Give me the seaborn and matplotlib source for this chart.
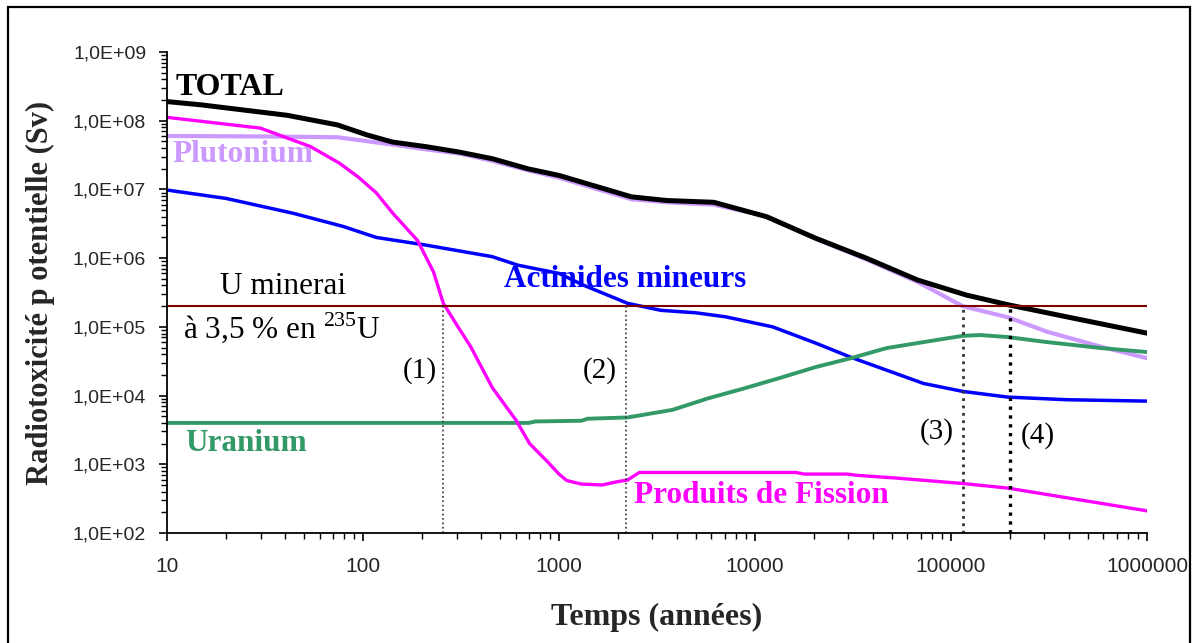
import numpy as np
import seaborn as sns
from matplotlib import pyplot as plt
from matplotlib import ticker
from matplotlib.patches import Rectangle

# temps (annees) et radiotoxicite (Sv)
total_t = [10, 15, 41, 74, 105, 141, 209, 309, 457, 692, 1000, 2344, 3548, 6166,
           11500, 20400, 37000, 67600, 120000, 195000, 389000, 1000000]
total_v = [1.9e8, 1.7e8, 1.2e8, 8.7e7, 6.2e7, 4.9e7, 4.2e7, 3.5e7, 2.8e7, 2.0e7, 1.6e7,
           7.8e6, 6.9e6, 6.5e6, 4.0e6, 1.95e6, 1.0e6, 4.8e5, 2.9e5, 2.1e5, 1.4e5, 8.1e4]

pu_t = [10, 32, 74, 141, 200, 316, 457, 692, 1000, 2344, 3548, 6166, 10965, 20893,
        36308, 67608, 114815, 195000, 309000, 589000, 1000000]
pu_v = [6.0e7, 5.9e7, 5.75e7, 4.5e7, 3.9e7, 3.3e7, 2.6e7, 1.9e7, 1.48e7, 7.2e6, 6.5e6,
        6.0e6, 4.2e6, 1.86e6, 9.8e5, 4.5e5, 2.0e5, 1.38e5, 8.5e4, 5.1e4, 3.5e4]

am_t = [10, 20, 44, 79, 117, 209, 457, 617, 1000, 1318, 2239, 3311, 5012, 7079, 12303,
        20417, 30903, 46774, 72444, 114815, 194984, 389045, 1000000]
am_v = [9.8e6, 7.4e6, 4.5e6, 2.9e6, 2.0e6, 1.55e6, 1.05e6, 7.9e5, 6.0e5, 4.1e5, 2.2e5,
        1.74e5, 1.6e5, 1.4e5, 1.0e5, 5.8e4, 3.6e4, 2.35e4, 1.5e4, 1.15e4, 9.5e3, 8.7e3, 8.3e3]

u_t = [10, 700, 760, 1300, 1400, 2239, 3802, 5754, 8710, 13183, 20417, 30903, 46774,
       72444, 114815, 141254, 194984, 309030, 588844, 1000000]
u_v = [4.0e3, 4.0e3, 4.2e3, 4.3e3, 4.6e3, 4.8e3, 6.2e3, 9.1e3, 1.26e4, 1.78e4, 2.6e4,
       3.5e4, 4.9e4, 6.0e4, 7.4e4, 7.6e4, 7.1e4, 6.0e4, 4.9e4, 4.3e4]

pf_t = [10, 30, 54, 76, 95, 117, 141, 190, 229, 257, 302, 355, 457, 603, 708, 871,
        1000, 1096, 1300, 1660, 2000, 2239, 2570, 16218, 17783, 29512, 33113, 52481,
        114815, 194984, 1000000]
pf_v = [1.12e8, 7.8e7, 4.2e7, 2.4e7, 1.5e7, 8.9e6, 4.6e6, 1.8e6, 6.3e5, 2.2e5, 1.05e5,
        5.1e4, 1.3e4, 4.4e3, 2.0e3, 1.1e3, 720, 580, 515, 500, 560, 590, 760, 760, 720,
        720, 690, 630, 525, 450, 210]

u_minerai = 2.0e5
repere_t = [257, 2190, 115000, 200000]
repere_txt = ["(1)", "(2)", "(3)", "(4)"]

sns.set_style("white")
plt.rcParams['font.family'] = ['Liberation Serif', 'DejaVu Serif']
plt.rcParams['mathtext.fontset'] = 'custom'
plt.rcParams['mathtext.rm'] = 'Liberation Serif'

fig = plt.figure(figsize=(11.98, 6.43), dpi=100)
ax = fig.add_axes([0.1394, 0.1711, 0.818, 0.748])

sns.lineplot(x=pu_t, y=pu_v, ax=ax, color="#CC99FF", lw=3.0)
sns.lineplot(x=total_t, y=total_v, ax=ax, color="black", lw=3.6)
sns.lineplot(x=am_t, y=am_v, ax=ax, color="#0000FF", lw=2.5)
sns.lineplot(x=u_t, y=u_v, ax=ax, color="#339966", lw=2.8)
sns.lineplot(x=pf_t, y=pf_v, ax=ax, color="#FF00FF", lw=2.4)

ax.axhline(u_minerai, color="#800000", lw=1.5)
styles = [("#333333", 1.2), ("#333333", 1.2), ("#333333", 2.0), ("black", 2.4)]
for t, (c, w) in zip(repere_t, styles):
    ax.plot([t, t], [1e2, u_minerai], ls=":", color=c, lw=w)

ax.set_xscale("log")
ax.set_yscale("log")
ax.set_xlim(10, 1e6)
ax.set_ylim(1e2, 1e9)

ax.yaxis.set_major_formatter(ticker.FuncFormatter(lambda v, p: "1,0E+%02d" % round(np.log10(v))))
ax.xaxis.set_major_formatter(ticker.FuncFormatter(lambda v, p: "%d" % round(v)))
ax.xaxis.set_minor_formatter(ticker.NullFormatter())
ax.yaxis.set_minor_formatter(ticker.NullFormatter())
ax.xaxis.set_minor_locator(ticker.LogLocator(base=10, subs=np.arange(2, 10), numticks=20))
ax.yaxis.set_minor_locator(ticker.LogLocator(base=10, subs=np.arange(2, 10), numticks=20))

ax.tick_params(axis="both", which="major", direction="out", length=6, width=1.2,
               bottom=True, left=True, color="black")
ax.tick_params(axis="both", which="minor", direction="out", length=4, width=1,
               bottom=True, left=True, color="black")
for lab in ax.get_yticklabels():
    lab.set_fontfamily("Liberation Sans")
    lab.set_fontsize(14)
for lab in ax.get_xticklabels():
    lab.set_fontfamily("Liberation Sans")
    lab.set_fontsize(15)
ax.tick_params(axis="y", pad=9)
ax.tick_params(axis="x", pad=11)

for s in ["top", "right"]:
    ax.spines[s].set_visible(False)
for s in ["left", "bottom"]:
    ax.spines[s].set_color("black")
    ax.spines[s].set_linewidth(1.3)

ax.set_ylabel("Radiotoxicité p otentielle (Sv)", fontsize=22, fontweight="bold", labelpad=13)
ax.set_xlabel("Temps (années)", fontsize=23, fontweight="bold", labelpad=20)

ax.text(11, 2.35e8, "TOTAL", fontsize=23, fontweight="bold", color="black")
ax.text(10.7, 2.5e7, "Plutonium", fontsize=22.5, fontweight="bold", color="#CC99FF")
ax.text(525, 3.8e5, "Actinides mineurs", fontsize=22.5, fontweight="bold", color="#0000FF")
ax.text(12.4, 1.55e3, "Uranium", fontsize=22.5, fontweight="bold", color="#339966")
ax.text(2400, 275, "Produits de Fission", fontsize=22.5, fontweight="bold", color="#FF00FF")
ax.text(18.6, 3.0e5, "U minerai", fontsize=22.5, color="black")
ax.text(12, 6.9e4, "à 3,5 % en $^{235}$U", fontsize=22.5, color="black")

label_pos = [(195, 2.3e4), (1620, 2.3e4), (85000, 3.0e3), (277000, 2.6e3)]
for (lx, ly), txt in zip(label_pos, repere_txt):
    ax.text(lx, ly, txt, fontsize=21, ha="center", va="center", color="black")

fig.patches.append(Rectangle((8 / 1198, -0.05), 1182 / 1198, 1.039, transform=fig.transFigure,
                             fill=False, ec="black", lw=1.6))

fig.savefig("out.png", dpi=100)
